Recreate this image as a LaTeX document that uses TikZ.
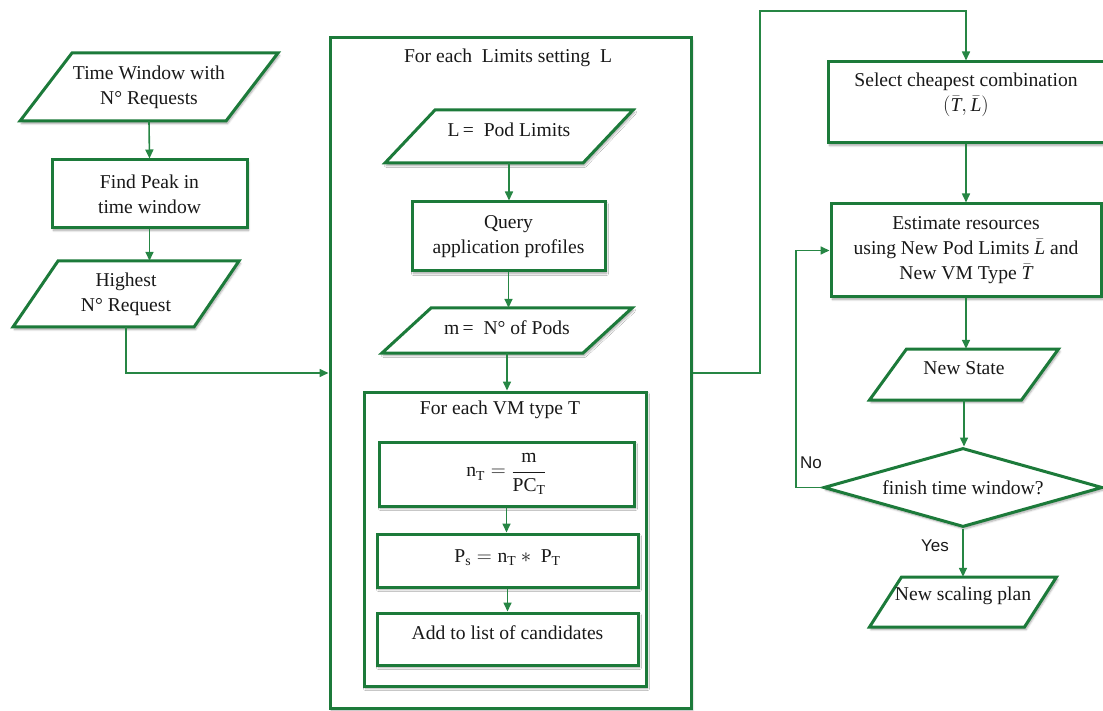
\documentclass[tikz,border=0pt]{standalone}
\usepackage{fontspec}
\setmainfont{Liberation Serif}
\usetikzlibrary{shapes.geometric,arrows.meta,shadows.blur}
\newfontfamily\labelsans{Liberation Sans}
\definecolor{flowgreen}{RGB}{28,122,58}
\definecolor{linkgreen}{RGB}{38,134,68}

\tikzset{
  txt/.style={font=\fontsize{19.6}{25}\selectfont, align=center, text=black!90},
  frame/.style={draw=flowgreen, line width=3pt, fill=white,
    blur shadow={shadow xshift=1.5pt, shadow yshift=-2.5pt, shadow blur steps=6,
      shadow blur radius=2pt, shadow opacity=35}},
  box/.style={frame, txt, rectangle, inner sep=0pt},
  link/.style={draw=linkgreen, line width=1.6pt, -{Triangle[length=9pt,width=8pt]}},
  tag/.style={font=\labelsans\fontsize{17}{20}\selectfont, text=black!90, inner sep=0pt}
}

% slanted input/output box: name, centre, width, height, slant, text
\newcommand{\slantbox}[6]{%
  \draw[frame, shift={#2}] ({-#3/2+#5/2},{-#4/2}) -- ({#3/2+#5/2},{-#4/2})
     -- ({#3/2-#5/2},{#4/2}) -- ({-#3/2-#5/2},{#4/2}) -- cycle;
  \node[txt, minimum width=#3pt, minimum height=#4pt, inner sep=0pt] (#1) at #2 {#6};}

\begin{document}
\begin{tikzpicture}[x=1pt, y=-1pt]
\useasboundingbox (0,0) rectangle (1103,711);
\clip (0,0) rectangle (1103,711);

% ---- left column ----
\slantbox{tw}{(149,87)}{206}{68}{52}{Time Window with\\N\textdegree\ Requests}
\node[box, minimum width=195pt, minimum height=68pt] (fp) at (149.5,194) {Find Peak in\\time window};
\slantbox{hi}{(126,294)}{181}{66}{45}{Highest\\N\textdegree\ Request}

% ---- loop over limit settings ----
\node[box, minimum width=361pt, minimum height=670pt] (big) at (510.5,373) {};
\node[txt] (bigt) at (508,58) {For each\ \ Limits setting\ \ L};
\slantbox{lp}{(509,136.5)}{198}{53}{50}{\raisebox{7pt}[\height][\depth]{L\,=\ \ Pod Limits}}
\node[box, minimum width=193pt, minimum height=69pt] (q) at (508.5,236.5) {Query\\application profiles};
\slantbox{mp}{(507,330.5)}{201}{45}{49}{\raisebox{3pt}[\height][\depth]{m\,=\ \ N\textdegree\ of Pods}}

% ---- loop over VM types ----
\node[box, minimum width=282pt, minimum height=294pt] (inner) at (505,539) {};
\node[txt] (innt) at (500,410) {For each VM type T};
\node[box, minimum width=255pt, minimum height=64pt] (nt) at (506.5,474)
  {$\mathrm{n_T} = \displaystyle\frac{\mathrm{m}}{\mathrm{PC_T}}$};
\node[box, minimum width=261pt, minimum height=53pt] (ps) at (507.5,560.5)
  {\raisebox{3pt}[\height][\depth]{$\mathrm{P_s} = \mathrm{n_T} \ast\ \mathrm{P_T}$}};
\node[box, minimum width=261pt, minimum height=52pt] (add) at (507.5,639)
  {\raisebox{6pt}[\height][\depth]{Add to list of candidates}};

% ---- right column ----
\node[box, minimum width=276pt, minimum height=81pt] (sel) at (966,102.5) {};
\node[txt] (selt) at (966,95) {Select cheapest combination\\$(\bar{\mathit{T}},\bar{\mathit{L}})$};
\node[box, minimum width=270pt, minimum height=93pt] (est) at (966,250.5)
  {Estimate resources\\using New Pod Limits $\bar{\mathit{L}}$ and\\New VM Type $\bar{\mathit{T}}$};
\slantbox{ns}{(964,374.5)}{152}{51}{37}{\raisebox{6pt}[\height][\depth]{New State}}
\node[frame, txt, diamond, aspect=3.5, minimum width=279pt, minimum height=79pt, inner sep=0pt] (dia)
  at (963,487.5) {finish time window?};
\slantbox{nsp}{(963,602)}{155}{50}{32}{\raisebox{6pt}[\height][\depth]{New scaling plan}}

% ---- connectors ----
\draw[link] (tw.south) -- (fp.north);
\draw[link] (fp.south) -- (fp.south |- hi.north);
\draw[link] (hi.south) |- (big.west);
\draw[link] (lp.south) -- (lp.south |- q.north);
\draw[link] (q.south) -- (q.south |- mp.north);
\draw[link] (mp.south) -- (mp.south |- inner.north);
\draw[link] (nt.south) -- (nt.south |- ps.north);
\draw[link] (ps.south) -- (ps.south |- add.north);

\coordinate (over) at (760,11);
\draw[link] (big.east) -| (over) -| (sel.north);
\draw[link] (sel.south) -- (est.north);
\draw[link] (est.south) -- (est.south |- ns.north);
\draw[link] (ns.south) -- (ns.south |- dia.north);
\draw[link] (dia.south) -- (dia.south |- nsp.north);
\coordinate (back) at (796,487.5);
\draw[link] (dia.west) -- (back) |- (est.west);

\node[tag, anchor=west] (no) at (800,463) {No};
\node[tag] (yes) at (935,546) {Yes};
\end{tikzpicture}
\end{document}
